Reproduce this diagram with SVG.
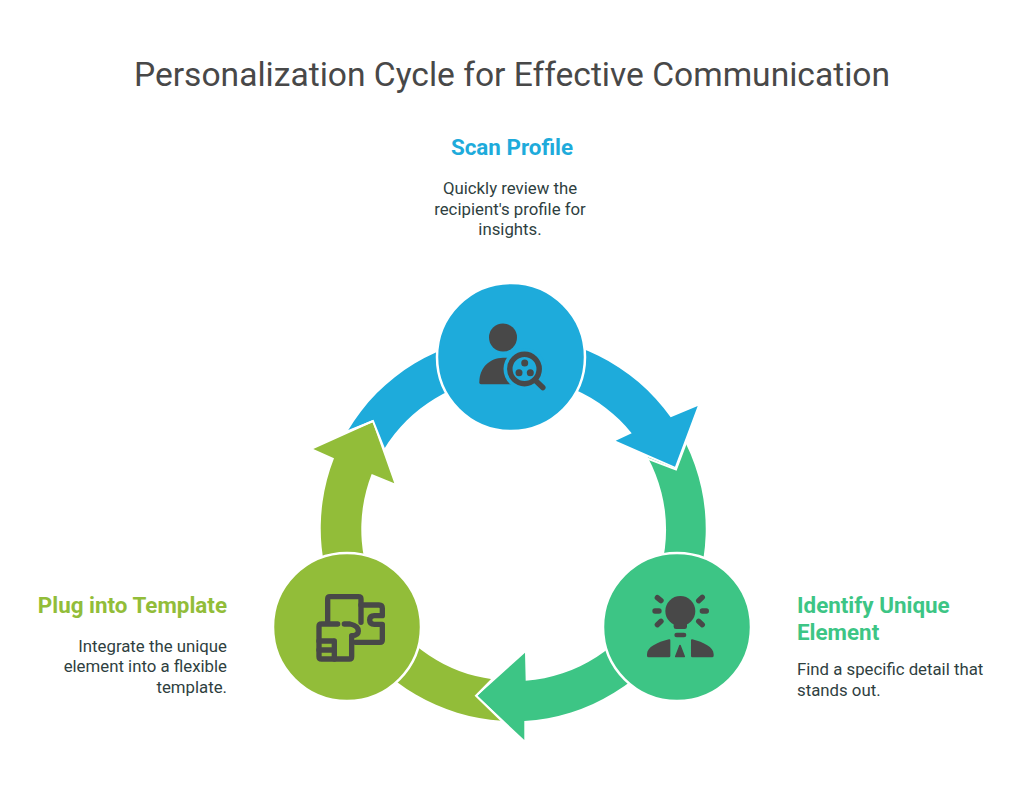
<svg xmlns="http://www.w3.org/2000/svg" width="1024" height="808" viewBox="0 0 1024 808">
<style>
text{font-family:Roboto,"Liberation Sans",sans-serif}
.title{font-size:33.6px;fill:#484848;text-anchor:middle}
.h{font-size:22.4px;font-weight:700}
.d{font-size:16.8px;fill:#2f3f3f}
.blue{fill:#1eabdb}.green{fill:#3dc585}.olive{fill:#92bd39}
.edge{fill:none;stroke:#fff;stroke-width:2;stroke-linejoin:miter}
.nc{stroke:#fff;stroke-width:2.5}
.ic{fill:#484848}
.il{fill:none;stroke:#484848;stroke-linecap:round;stroke-linejoin:round}
</style>
<rect width="1024" height="808" fill="#fff"/>
<text class="title" x="512" y="86">Personalization Cycle for Effective Communication</text>
<g id="connectors">
<path id="arc-blue" class="blue" d="M347.700 431A192.500 192.500 0 0 1 670.700 417.300L697.700 406L675 466.700L615.700 440.700L631.700 433.300A151.500 151.500 0 0 0 384 449.300L372.700 420Z"/>
<path id="arc-green" class="green" d="M647.700 457.300L676.500 469L685.700 443.300A192.500 192.500 0 0 1 524.300 721L524.300 740L477.300 695.700L525 652.700L525.700 680.700A151.500 151.500 0 0 0 647.700 457.300Z"/>
<path id="arc-olive" class="olive" d="M501.700 720.700A192.500 192.500 0 0 1 334 458.300L313.300 449L372.700 422.300L394.300 483.300L371.700 474A151.500 151.500 0 0 0 492.300 679.300L475.500 695.700Z"/>
<path class="edge" d="M646 458L676 469.500L686 443M493 678.500L476 695.700L503 722M346 432L373 421L385 451"/>
</g>
<g id="node-scan">
<circle class="blue nc" cx="511" cy="357" r="74"/>
<circle class="ic" cx="503" cy="337.500" r="14"/>
<path class="ic" d="M479.300 382.500C479.300 367 490 358 503 357.700L514 357.700L514 384.300L481 384.300Q479.300 384.300 479.300 382.500Z"/>
<circle class="blue" cx="524.500" cy="369" r="21"/>
<circle cx="524.500" cy="369" r="14.700" fill="none" stroke="#484848" stroke-width="5.500"/>
<path class="il" stroke-width="5.500" d="M535.500 380.500L542.800 387.500"/>
<circle class="ic" cx="524.700" cy="363" r="3.500"/>
<circle class="ic" cx="519" cy="372.700" r="3.500"/>
<circle class="ic" cx="530.300" cy="372.700" r="3.500"/>
<text class="h blue" x="512" y="155" text-anchor="middle">Scan Profile</text>
<text class="d" text-anchor="middle"><tspan x="510" y="194">Quickly review the</tspan><tspan x="510" y="214.500">recipient's profile for</tspan><tspan x="510" y="235">insights.</tspan></text>
</g>
<g id="node-identify">
<circle class="green nc" cx="677" cy="627" r="74"/>
<g transform="translate(637 585) scale(.3333)">
<circle class="ic" cx="130" cy="78" r="45"/>
<path class="ic" d="M110 110H150V125Q150 132 143 132H117Q110 132 110 125Z"/>
<rect class="ic" x="112" y="143" width="36" height="14" rx="7"/>
<path class="il" stroke-width="16" d="M61 38L72 47M196 37L185 47M54 78H66M196 78H208M61 119L72 109M185 109L196 119"/>
<path class="ic" d="M30 208C30 186 60 172 96 163Q100 162 100 166V213Q100 217 96 217H35Q30 217 30 212ZM230 208C230 186 200 172 166 163Q162 162 162 166V213Q162 217 166 217H225Q230 217 230 212ZM127 180Q129 178 131 180L144 214Q145 217 142 217H116Q113 217 114 214Z"/>
</g>
<text class="h green" x="797" y="613">Identify Unique</text>
<text class="h green" x="797" y="640">Element</text>
<text class="d"><tspan x="797" y="675">Find a specific detail that</tspan><tspan x="797" y="696">stands out.</tspan></text>
</g>
<g id="node-plug">
<circle class="olive nc" cx="347" cy="627" r="74"/>
<g transform="translate(305 585) scale(.3333)" class="il" stroke-width="16">
<path d="M68 112V42Q68 35 75 35H160Q168 35 168 42V112"/>
<path d="M168 60H222Q232 60 232 70V92H208Q194 92 194 105Q194 118 208 118H232V165Q232 172 225 172H152"/>
<path d="M98 117H50Q42 117 42 124V215Q42 222 50 222H133Q140 222 140 215V152Q160 152 160 138Q160 122 135 117H118"/>
<path d="M42 168H86M42 195H86M88 168V222"/>
</g>
<text class="h olive" x="227" y="613" text-anchor="end">Plug into Template</text>
<text class="d" text-anchor="end"><tspan x="227" y="652">Integrate the unique</tspan><tspan x="227" y="672">element into a flexible</tspan><tspan x="227" y="693">template.</tspan></text>
</g>
</svg>
